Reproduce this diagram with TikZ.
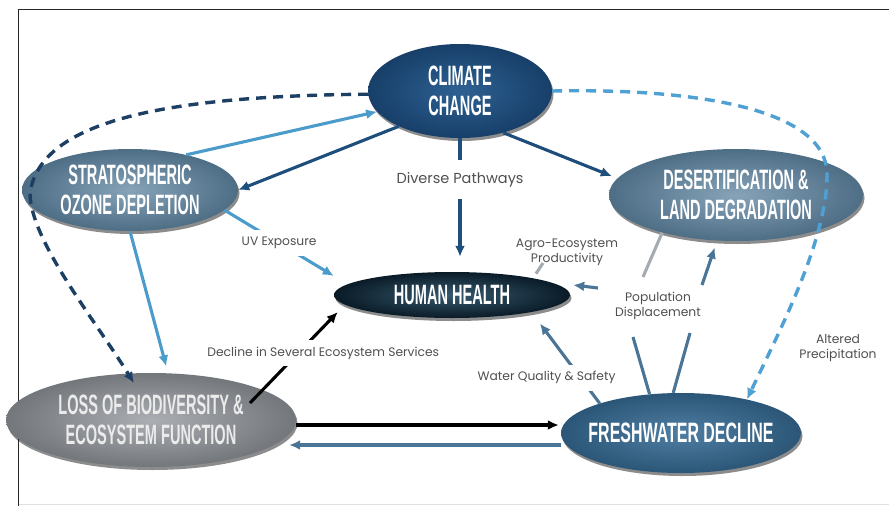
\documentclass[tikz,border=0pt]{standalone}
\usepackage{fontspec}
\usetikzlibrary{shapes.geometric,arrows.meta,shadows}
\newfontfamily\hfont[FakeStretch=0.52]{Liberation Sans}
\newfontfamily\lfont{Poppins}
\definecolor{ccin}{HTML}{2E6193}
\definecolor{ccout}{HTML}{173F69}
\definecolor{gbin}{HTML}{86A3B8}
\definecolor{gbout}{HTML}{4E6E86}
\definecolor{hhin}{HTML}{36596F}
\definecolor{hhout}{HTML}{0A1B27}
\definecolor{lbin}{HTML}{ABAEB2}
\definecolor{lbout}{HTML}{73777C}
\definecolor{fdin}{HTML}{4F7EA3}
\definecolor{fdout}{HTML}{2B5677}
\definecolor{dkblue}{HTML}{1D4E7C}
\definecolor{ltblue}{HTML}{4B9BCB}
\definecolor{steel}{HTML}{4A7596}
\definecolor{gline}{HTML}{A5ABB0}
\definecolor{dashdk}{HTML}{1C3F63}
\definecolor{dashlt}{HTML}{4FA0D3}
\definecolor{labgray}{HTML}{505050}
\begin{document}
\begin{tikzpicture}[x=1pt,y=-1pt,
  ell/.style={ellipse, inner sep=0pt, align=center, text=white,
     font=\hfont\bfseries\fontsize{28}{30}\selectfont,
     drop shadow={shadow xshift=1.5pt, shadow yshift=-3pt, opacity=0.45, fill=black}},
  lab/.style={font=\lfont\fontsize{12.3}{15}\selectfont, text=labgray, align=center, inner sep=1pt},
  conn/.style={line width=3.1pt},
  tip/.style={-{Latex[length=11pt,width=10pt]}},
  dashline/.style={line width=3.4pt, dash pattern=on 10pt off 7pt},
]
\useasboundingbox (0,0) rectangle (889,506);
\fill[white] (0,0) rectangle (889,506);
\draw[black!85, line width=1.6pt] (889,9.5) -- (18.5,9.5) -- (18.5,506);
\draw[black!12, line width=1pt] (18.5,504.5) -- (889,504.5);

% ellipses
\node[ell, minimum width=184, minimum height=94, inner color=ccin, outer color=ccout] (cc) at (460,91) {CLIMATE\\CHANGE};
\node[ell, minimum width=216, minimum height=82, inner color=gbin, outer color=gbout] (so) at (130,190) {STRATOSPHERIC\\OZONE DEPLETION};
\node[ell, minimum width=254, minimum height=92, inner color=gbin, outer color=gbout] (dl) at (736,195) {DESERTIFICATION \&\\LAND DEGRADATION};
\node[ell, minimum width=236, minimum height=46, inner color=hhin, outer color=hhout] (hh) at (452,295) {HUMAN HEALTH};
\node[ell, minimum width=290, minimum height=94, inner color=lbin, outer color=lbout, text=white!92!black] (lb) at (151,420) {LOSS OF BIODIVERSITY \&\\ECOSYSTEM FUNCTION};
\node[ell, minimum width=240, minimum height=80, inner color=fdin, outer color=fdout, inner xsep=-14pt, font=\hfont\bfseries\fontsize{28}{30}\selectfont\addfontfeature{FakeStretch=0.57}] (fd) at (681,433) {FRESHWATER DECLINE};

% labels without connectors through them
\node[lab] (pd) at (658,306) {Population\\Displacement};
\node[lab] (ae) at (567,252) {Agro-Ecosystem\\Productivity};
\node[lab] (ap) at (838,348) {Altered\\Precipitation};

% climate change links
\draw[conn, dkblue, tip] (cc.210) -- (so.east);
\draw[conn, ltblue, tip] (so.32) -- (cc.194);
\draw[conn, dkblue, tip, shorten >=6pt] (cc.316) -- (dl.172);
\draw[conn, dkblue, tip, shorten >=15pt] (cc.south) -- node[lab, pos=0.31, fill=white, inner ysep=12pt, font=\lfont\fontsize{14.5}{16}\selectfont]{Diverse Pathways} (cc.south |- hh.north);

% stratospheric links
\draw[conn, ltblue, tip] (so.-12) -- node[lab, fill=white, inner ysep=7pt]{UV Exposure} ([yshift=19pt]hh.west);
\draw[conn, ltblue, tip, shorten >=7pt] (so.south) -- (lb.70);

% loss of biodiversity links
\draw[conn, black, tip] ([xshift=99pt,yshift=17pt]lb.center) -- node[lab, pos=0.55, xshift=25pt, fill=white, inner ysep=7pt]{Decline in Several Ecosystem Services} ([xshift=4pt,yshift=-17pt]hh.west);
\coordinate (p1) at ([yshift=-5pt]lb.east);
\draw[conn, black, tip, shorten >=2pt] (p1) -- (p1 -| fd.west);
\coordinate (p2) at ([yshift=-12pt]fd.west);
\coordinate (p3) at (p2 -| lb.east);
\draw[conn, steel, tip] (p2) -- ([xshift=-7pt]p3);

% freshwater links
\draw[conn, steel, tip] (fd.160) -- node[lab, pos=0.32, xshift=-34pt, fill=white, inner ysep=7pt]{Water Quality \& Safety} ([yshift=-13pt]hh.-10);
\coordinate (pa) at ([xshift=-25pt,yshift=-31pt]pd.center);
\coordinate (pb) at ([xshift=32pt,yshift=-27pt]pd.center);
\coordinate (pc) at ([xshift=44pt,yshift=21pt]pd.center);
\coordinate (pg) at ([xshift=-15pt,yshift=29pt]pd.center);
\coordinate (ph) at ([xshift=-60pt,yshift=18pt]pd.center);
\draw[conn, steel] (fd.129) -- (pa);
\draw[conn, steel] (fd.101) -- (pb);
\draw[conn, steel, tip] (pc) -- ([yshift=-7pt]dl.245);
\draw[conn, gline] (dl.207) -- (pg);
\draw[conn, steel, tip] (ph) -- ([xshift=3pt,yshift=10pt]hh.east);
\coordinate (ag) at ([xshift=-24pt,yshift=-11pt]ae.center);
\draw[conn, gline] (ag) -- ([yshift=5pt]hh.11);

% dashed feedback loops
\draw[dashline, dashdk, tip] (cc.182) .. controls (150,96) and (40,125) .. (30,193) .. controls (30,240) and (95,320) .. ([yshift=-10pt]lb.110);
\draw[dashline, dashlt, tip] (cc.east) .. controls (700,88) and (828,110) .. (827,175) .. controls (827,240) and (780,330) .. (fd.27);
\end{tikzpicture}
\end{document}
